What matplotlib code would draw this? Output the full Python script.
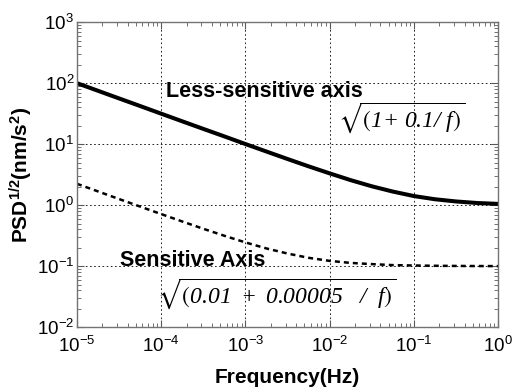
import numpy as np
import matplotlib
matplotlib.use("Agg")
import matplotlib.pyplot as plt
from matplotlib.ticker import LogLocator, NullFormatter

plt.rcParams['font.family'] = ['Liberation Sans', 'DejaVu Sans']
plt.rcParams['mathtext.fontset'] = 'custom'
plt.rcParams['mathtext.rm'] = 'Liberation Sans'
plt.rcParams['mathtext.it'] = 'Liberation Serif:italic'
plt.rcParams['mathtext.sf'] = 'Liberation Serif:italic'
plt.rcParams['mathtext.bf'] = 'Liberation Sans:bold'
plt.rcParams['mathtext.fallback'] = 'stix'

# ── Data (quarter-decade points) ────────────────────────────────────────────
freq = [1e-5, 1.778e-5, 3.162e-5, 5.623e-5,
        1e-4, 1.778e-4, 3.162e-4, 5.623e-4,
        1e-3, 1.778e-3, 3.162e-3, 5.623e-3,
        1e-2, 1.778e-2, 3.162e-2, 5.623e-2,
        1e-1, 1.778e-1, 3.162e-1, 5.623e-1, 1.0]

less_sensitive = [100.0, 75.0, 56.2, 42.2,
                  31.6, 23.7, 17.8, 13.4,
                  10.05, 7.57, 5.71, 4.33,
                  3.32, 2.57, 2.04, 1.67,
                  1.41, 1.25, 1.15, 1.085, 1.049]

sensitive = [2.24, 1.68, 1.26, 0.948,
             0.714, 0.540, 0.410, 0.315,
             0.245, 0.195, 0.161, 0.137,
             0.122, 0.113, 0.108, 0.104,
             0.1025, 0.1014, 0.1008, 0.1004, 0.1002]

# ── Figure ──────────────────────────────────────────────────────────────────
fig = plt.figure(figsize=(5.13, 3.89), dpi=100)
ax = fig.add_axes([0.150, 0.159, 0.821, 0.784])

ax.plot(freq, less_sensitive, color='black', lw=2.9, solid_capstyle='butt')
ax.plot(freq, sensitive, color='black', lw=1.8, ls=(0, (2.0, 1.6)))

ax.set_xscale('log')
ax.set_yscale('log')
ax.set_xlim(1e-5, 1)
ax.set_ylim(1e-2, 1e3)

ax.xaxis.set_major_locator(LogLocator(base=10, numticks=10))
ax.yaxis.set_major_locator(LogLocator(base=10, numticks=10))
ax.xaxis.set_minor_locator(LogLocator(base=10, subs=np.arange(2, 10), numticks=10))
ax.yaxis.set_minor_locator(LogLocator(base=10, subs=np.arange(2, 10), numticks=10))
ax.xaxis.set_minor_formatter(NullFormatter())
ax.yaxis.set_minor_formatter(NullFormatter())

ax.tick_params(which='both', direction='in', top=True, right=True, color='0.35')
ax.tick_params(which='major', length=5, width=0.8, labelsize=13.5)
ax.tick_params(axis='x', which='major', pad=6)
ax.tick_params(axis='y', which='major', pad=2)
ax.tick_params(which='minor', length=3, width=0.6)

ax.grid(True, which='major', color='black', lw=0.6, ls=(0, (2, 3)))
for s in ax.spines.values():
    s.set_color('0.45')
    s.set_linewidth(1.0)

ax.set_xlabel('Frequency(Hz)', fontsize=15, fontweight='bold', labelpad=9)
ax.set_ylabel(r'PSD$^{\mathdefault{1/2}}$(nm/s$^{\mathdefault{2}}$)',
              fontsize=15, fontweight='bold', labelpad=2)

# ── Annotations ─────────────────────────────────────────────────────────────
ax.text(1.14e-4, 74, 'Less-sensitive axis', fontsize=15.5, fontweight='bold',
        ha='left', va='center')
ax.text(1.26e-2, 27,
        r'$\sqrt{\left(\mathsf{1{+}\ 0.1/\ f}\right)}$',
        fontsize=17, ha='left', va='center')
ax.text(3.2e-5, 0.126, 'Sensitive Axis', fontsize=15.5, fontweight='bold',
        ha='left', va='center')
ax.text(8.9e-5, 0.035,
        r'$\sqrt{\left(\mathsf{0.01\ +\ 0.00005\ \ \ /\ \ f}\right)}$',
        fontsize=17, ha='left', va='center')

fig.savefig('out.png', dpi=100)
